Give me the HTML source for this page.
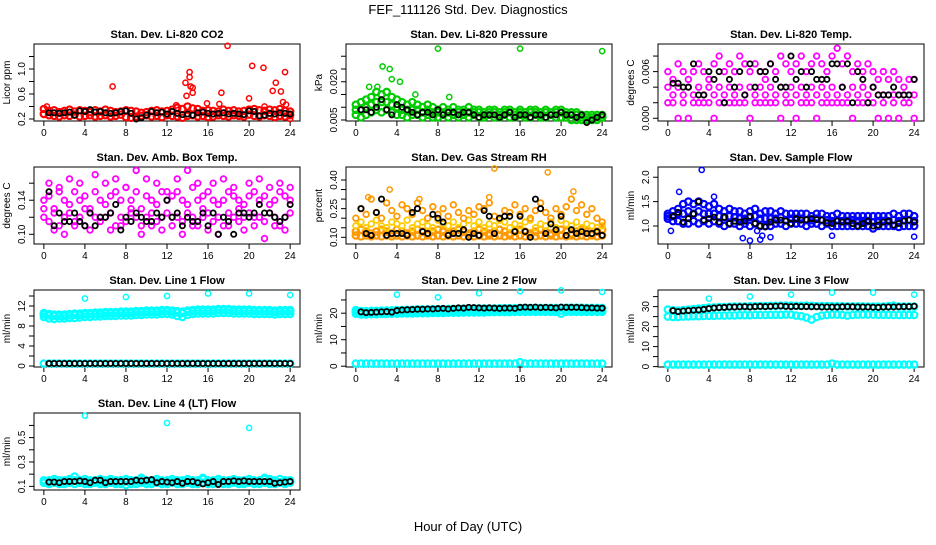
<!DOCTYPE html>
<html><head><meta charset="utf-8"><style>
body{margin:0;background:#fff}
svg text{font-family:"Liberation Sans",sans-serif}
</style></head><body>
<svg id="c" width="936" height="540" viewBox="0 0 936 540">
<text x="468" y="14" font-size="13" text-anchor="middle">FEF_111126  Std. Dev. Diagnostics</text>
<text x="468" y="531" font-size="13" text-anchor="middle">Hour of Day (UTC)</text>
</svg>
<script>
const hours=[0,0.5,1,1.5,2,2.5,3,3.5,4,4.5,5,5.5,6,6.5,7,7.5,8,8.5,9,9.5,10,10.5,11,11.5,12,12.5,13,13.5,14,14.5,15,15.5,16,16.5,17,17.5,18,18.5,19,19.5,20,20.5,21,21.5,22,22.5,23,23.5,24];
const xTicks=[0,4,8,12,16,20,24];
// panel 1 CO2
const co2A=[0.36,0.33,0.34,0.31,0.33,0.35,0.32,0.34,0.33,0.31,0.34,0.32,0.35,0.33,0.31,0.32,0.34,0.33,0.32,0.3,0.31,0.33,0.34,0.32,0.33,0.35,0.38,0.36,0.4,0.37,0.36,0.33,0.34,0.33,0.32,0.35,0.33,0.34,0.32,0.33,0.35,0.36,0.34,0.33,0.35,0.34,0.36,0.33,0.32];
const co2B=[0.28,0.26,0.25,0.24,0.26,0.25,0.27,0.24,0.25,0.26,0.24,0.25,0.26,0.24,0.25,0.27,0.23,0.22,0.24,0.25,0.26,0.24,0.25,0.23,0.26,0.25,0.24,0.22,0.25,0.26,0.24,0.25,0.23,0.24,0.26,0.25,0.24,0.26,0.25,0.24,0.27,0.25,0.24,0.26,0.25,0.23,0.25,0.24,0.26];
const co2Black=[0.3,0.3,0.29,0.3,0.31,0.26,0.33,0.32,0.35,0.31,0.32,0.3,0.29,0.3,0.32,0.33,0.29,0.2,0.22,0.26,0.32,0.3,0.31,0.28,0.32,0.29,0.27,0.28,0.26,0.3,0.31,0.29,0.28,0.29,0.3,0.28,0.29,0.28,0.27,0.33,0.32,0.25,0.26,0.29,0.28,0.3,0.29,0.28];
const co2OutX=[0.3,6.7,12.9,13.8,13.9,14.2,14.2,14.3,14.5,14.5,15.9,17.1,17.3,17.9,20,20.3,21.4,21.5,22.3,22.6,23.1,23.3,23.5,23.6,24];
const co2OutY=[0.4,0.72,0.42,0.78,0.57,0.95,0.87,0.72,0.7,0.62,0.45,0.44,0.62,1.37,0.53,1.05,1.02,0.4,0.65,0.78,0.64,0.47,0.95,0.43,0.2];
const co2Ticks=[0.2,0.4,0.6,0.8,1.0,1.2];
const co2Labels=["0.2","","0.6","","1.0",""];
// panel 2 pressure
const presA=[0.011,0.012,0.013,0.014,0.016,0.015,0.016,0.014,0.013,0.012,0.011,0.012,0.011,0.010,0.011,0.010,0.009,0.010,0.009,0.010,0.009,0.009,0.010,0.009,0.009,0.008,0.009,0.009,0.008,0.009,0.009,0.008,0.009,0.008,0.009,0.009,0.008,0.009,0.008,0.009,0.009,0.008,0.008,0.008,0.007,0.007,0.007,0.007,0.007];
const presB=[0.007,0.006,0.007,0.008,0.009,0.008,0.009,0.008,0.007,0.007,0.006,0.007,0.007,0.006,0.007,0.006,0.006,0.007,0.006,0.007,0.006,0.007,0.006,0.007,0.006,0.006,0.007,0.006,0.006,0.007,0.006,0.006,0.007,0.006,0.006,0.007,0.006,0.006,0.007,0.006,0.006,0.006,0.005,0.005,0.005,0.005,0.005,0.005,0.006];
const presC=[0.009,0.009,0.010,0.011,0.012,0.012,0.012,0.011,0.010,0.009,0.009,0.009,0.009,0.008,0.009,0.008,0.008,0.008,0.008,0.008,0.008,0.008,0.008,0.008,0.008,0.007,0.008,0.008,0.007,0.008,0.008,0.007,0.008,0.007,0.008,0.008,0.007,0.008,0.007,0.008,0.008,0.007,0.007,0.007,0.006,0.006,0.006,0.006,0.006];
const presBlack=[0.009,0.009,0.008,0.01,0.013,0.009,0.007,0.011,0.01,0.009,0.008,0.007,0.008,0.008,0.007,0.009,0.007,0.008,0.008,0.007,0.008,0.008,0.007,0.006,0.007,0.007,0.007,0.006,0.007,0.008,0.006,0.007,0.007,0.006,0.007,0.007,0.006,0.007,0.007,0.008,0.007,0.007,0.006,0.007,0.004,0.005,0.006,0.007];
const presOutX=[2.6,3.3,3.5,4.3,8,16,24,1.3,2.1,5.8,9.1];
const presOutY=[0.026,0.025,0.021,0.020,0.033,0.033,0.032,0.018,0.018,0.015,0.014];
const presTicks=[0.005,0.010,0.015,0.020,0.025,0.030];
const presLabels=["0.005","","","0.020","",""];
// panel 3 Li-820 temp
const tempA=[0.006,0.005,0.007,0.006,0.005,0.006,0.007,0.006,0.005,0.007,0.008,0.006,0.007,0.006,0.008,0.007,0.006,0.007,0.006,0.005,0.007,0.006,0.008,0.007,0.006,0.007,0.008,0.006,0.007,0.008,0.007,0.006,0.008,0.009,0.007,0.008,0.006,0.007,0.006,0.007,0.006,0.005,0.006,0.005,0.006,0.005,0.004,0.005,0.005];
const tempB=[0.004,0.003,0.004,0.003,0.004,0.003,0.004,0.003,0.004,0.003,0.004,0.003,0.004,0.003,0.004,0.003,0.004,0.003,0.004,0.003,0.004,0.003,0.004,0.003,0.004,0.003,0.004,0.003,0.004,0.003,0.004,0.003,0.004,0.003,0.004,0.003,0.004,0.003,0.004,0.003,0.004,0.003,0.003,0.003,0.003,0.003,0.003,0.003,0.003];
const tempC=[0.002,0.002,0,0.002,0,0.002,0.002,0.002,0.002,0,0.002,0.002,0.002,0.002,0.002,0.002,0,0.002,0.002,0.002,0.002,0.002,0,0.002,0.002,0,0.002,0.002,0.002,0,0.002,0.002,0.002,0.002,0.002,0.002,0,0.002,0.002,0.002,0.002,0,0.002,0,0.002,0,0.002,0.002,0];
const tempBlack=[0.0045,0.0045,0.004,0.004,0.007,0.003,0.003,0.006,0.005,0.006,0.002,0.005,0.004,0.006,0.003,0.007,0.004,0.006,0.006,0.007,0.005,0.004,0.004,0.008,0.005,0.006,0.004,0.006,0.005,0.005,0.005,0.007,0.007,0.004,0.007,0.002,0.006,0.005,0.002,0.004,0.003,0.003,0.003,0.004,0.003,0.003,0.003,0.005];
const tempTicks=[0,0.002,0.004,0.006,0.008];
const tempLabels=["0.000","","","0.006",""];
// panel 4 amb box temp
const ambA=[0.14,0.145,0.13,0.15,0.14,0.135,0.15,0.14,0.145,0.13,0.15,0.14,0.135,0.145,0.15,0.14,0.155,0.14,0.15,0.13,0.145,0.14,0.135,0.15,0.14,0.145,0.15,0.14,0.135,0.155,0.14,0.145,0.15,0.14,0.135,0.14,0.15,0.145,0.14,0.135,0.145,0.15,0.14,0.145,0.135,0.14,0.15,0.145,0.14];
const ambB=[0.12,0.115,0.125,0.11,0.12,0.125,0.115,0.12,0.11,0.125,0.12,0.115,0.12,0.125,0.11,0.12,0.115,0.125,0.12,0.11,0.12,0.125,0.115,0.12,0.125,0.11,0.12,0.115,0.125,0.12,0.11,0.12,0.125,0.115,0.12,0.11,0.125,0.12,0.115,0.12,0.125,0.11,0.12,0.115,0.125,0.12,0.11,0.12,0.125];
const ambC=[0.13,0.16,0.105,0.155,0.1,0.165,0.11,0.16,0.13,0.105,0.17,0.12,0.16,0.105,0.165,0.11,0.155,0.13,0.175,0.1,0.165,0.11,0.16,0.105,0.15,0.12,0.165,0.1,0.175,0.11,0.16,0.13,0.105,0.16,0.1,0.165,0.11,0.155,0.13,0.105,0.16,0.12,0.165,0.095,0.155,0.11,0.16,0.105,0.155];
const ambBlack=[0.15,0.11,0.125,0.115,0.115,0.125,0.115,0.11,0.125,0.11,0.12,0.12,0.125,0.135,0.105,0.12,0.115,0.125,0.12,0.115,0.115,0.125,0.12,0.14,0.12,0.125,0.11,0.12,0.115,0.115,0.125,0.11,0.125,0.1,0.12,0.115,0.1,0.125,0.125,0.12,0.125,0.135,0.125,0.125,0.12,0.115,0.12,0.135];
const ambTicks=[0.10,0.12,0.14,0.16];
const ambLabels=["0.10","","0.14",""];
// panel 5 RH
const rhA=[0.13,0.14,0.13,0.12,0.13,0.14,0.13,0.12,0.14,0.13,0.12,0.13,0.14,0.13,0.12,0.13,0.14,0.13,0.12,0.13,0.14,0.13,0.12,0.13,0.14,0.13,0.12,0.13,0.14,0.13,0.12,0.13,0.14,0.13,0.12,0.13,0.14,0.13,0.12,0.13,0.14,0.13,0.12,0.13,0.14,0.13,0.12,0.13,0.14];
const rhB=[0.11,0.105,0.11,0.105,0.11,0.105,0.11,0.105,0.11,0.105,0.11,0.105,0.11,0.105,0.11,0.105,0.11,0.105,0.11,0.105,0.11,0.105,0.11,0.105,0.11,0.105,0.11,0.105,0.11,0.105,0.11,0.105,0.11,0.105,0.11,0.105,0.11,0.105,0.11,0.105,0.11,0.105,0.11,0.105,0.11,0.105,0.11,0.105,0.11];
const rhC=[0.2,0.25,0.22,0.3,0.23,0.2,0.28,0.24,0.21,0.27,0.25,0.22,0.28,0.24,0.2,0.26,0.22,0.25,0.21,0.27,0.23,0.2,0.24,0.22,0.26,0.25,0.28,0.21,0.2,0.24,0.23,0.27,0.22,0.25,0.2,0.24,0.28,0.23,0.2,0.25,0.22,0.26,0.3,0.24,0.27,0.22,0.25,0.2,0.18];
const rhD=[0.16,0.18,0.15,0.17,0.19,0.16,0.15,0.18,0.17,0.16,0.19,0.15,0.17,0.18,0.16,0.15,0.19,0.17,0.16,0.18,0.15,0.17,0.19,0.16,0.18,0.15,0.17,0.16,0.19,0.18,0.15,0.17,0.16,0.18,0.19,0.15,0.17,0.16,0.18,0.15,0.19,0.17,0.16,0.18,0.15,0.17,0.16,0.15,0.16];
const rhBlack=[0.25,0.12,0.11,0.23,0.3,0.11,0.12,0.12,0.12,0.11,0.23,0.25,0.13,0.12,0.22,0.2,0.18,0.11,0.12,0.12,0.14,0.1,0.12,0.11,0.24,0.21,0.12,0.2,0.21,0.21,0.13,0.21,0.13,0.1,0.3,0.25,0.12,0.17,0.14,0.21,0.11,0.14,0.12,0.13,0.12,0.12,0.13,0.11];
const rhOutX=[13.5,18.7,3.3,21.2,1.2,6.2,13];
const rhOutY=[0.46,0.44,0.35,0.34,0.31,0.3,0.31];
const rhTicks=[0.10,0.15,0.20,0.25,0.30,0.35,0.40];
const rhLabels=["0.10","","","0.25","","","0.40"];
// panel 6 sample flow
const sfA=[1.25,1.3,1.35,1.45,1.5,1.45,1.5,1.45,1.4,1.45,1.35,1.3,1.35,1.3,1.3,1.25,1.3,1.35,1.25,1.3,1.3,1.25,1.3,1.25,1.25,1.25,1.25,1.25,1.2,1.25,1.25,1.2,1.2,1.25,1.2,1.2,1.2,1.2,1.2,1.2,1.2,1.2,1.2,1.2,1.25,1.2,1.25,1.25,1.2];
const sfB=[1.15,1.1,1.1,1.05,1.05,1.1,1.05,1.1,1.05,1.1,1.05,1.0,1.05,1.05,1.0,1.05,1.0,1.05,1.0,1.0,1.0,1.05,1.05,1.0,1.05,1.05,1.05,1.0,1.05,1.05,1.0,1.05,1.0,1.0,1.0,1.0,1.0,1.0,1.0,1.0,0.95,1.0,1.0,1.0,1.0,0.98,1.0,1.0,1.0];
const sfC=[1.2,1.2,1.25,1.25,1.3,1.25,1.3,1.25,1.25,1.25,1.2,1.18,1.2,1.18,1.15,1.15,1.18,1.2,1.15,1.15,1.15,1.15,1.18,1.12,1.15,1.15,1.15,1.12,1.12,1.15,1.12,1.12,1.1,1.12,1.1,1.1,1.12,1.1,1.1,1.1,1.08,1.1,1.1,1.1,1.12,1.1,1.12,1.12,1.1];
const sfBlack=[1.2,1.28,1.08,1.15,1.25,1.5,1.12,1.15,1.18,1.08,1.18,1.05,1.1,1.08,1.1,1.2,1.05,1.0,0.98,1.08,1.12,1.12,1.1,1.05,1.15,1.12,1.13,1.15,1.13,1.12,1.06,1.05,1.1,1.08,1.1,1.05,1.0,1.05,1.1,1.0,1.02,1.08,1.1,1.02,1.05,1.1,1.12,1.08];
const sfOutX=[0.3,3.3,1.1,4.5,7.3,8,8.7,9,9.2,10,16,24];
const sfOutY=[0.9,2.15,1.7,1.6,0.75,0.7,0.9,0.72,0.8,0.77,0.8,0.78];
const sfTicks=[1.0,1.5,2.0];
const sfLabels=["1.0","1.5","2.0"];
// panel 7 line 1
const l1A=[10.3,10.1,10.0,10.0,10.0,10.1,10.2,10.2,10.3,10.3,10.4,10.4,10.5,10.5,10.5,10.6,10.6,10.6,10.7,10.7,10.8,10.8,10.8,10.9,10.9,10.8,10.7,10.6,10.8,10.9,11.0,11.0,11.0,11.0,11.1,11.1,11.1,11.0,11.0,11.0,11.0,10.9,10.9,10.9,10.9,10.8,10.9,10.9,10.9];
const l1B=[9.8,9.5,9.4,9.5,9.5,9.6,9.6,9.7,9.8,9.8,9.9,9.9,10.0,10.0,10.0,10.1,10.1,10.1,10.2,10.2,10.3,10.3,10.3,10.4,10.4,10.3,10.0,9.8,10.2,10.4,10.5,10.5,10.5,10.5,10.6,10.6,10.6,10.5,10.5,10.5,10.5,10.4,10.4,10.4,10.4,10.3,10.4,10.4,10.4];
const l1C=[10.6,10.4,10.3,10.3,10.3,10.4,10.5,10.5,10.6,10.6,10.7,10.7,10.8,10.8,10.8,10.9,10.9,10.9,11.0,11.0,11.1,11.1,11.1,11.2,11.2,11.1,11.0,10.9,11.1,11.2,11.3,11.3,11.3,11.3,11.4,11.4,11.4,11.3,11.3,11.3,11.3,11.2,11.2,11.2,11.2,11.1,11.2,11.2,11.2];
const l1Zero=[0.5,0.5,0.5,0.5,0.5,0.5,0.5,0.5,0.5,0.5,0.5,0.5,0.5,0.5,0.5,0.5,0.5,0.5,0.5,0.5,0.5,0.5,0.5,0.5,0.5,0.5,0.5,0.5,0.5,0.5,0.5,0.5,0.5,0.5,0.5,0.5,0.5,0.5,0.5,0.5,0.5,0.5,0.5,0.5,0.5,0.5,0.5,0.5,0.5];
const l1OutX=[4,8,12,16,20,24];
const l1OutY=[13.5,13.8,14,14.5,14.5,14.2];
const l1Ticks=[0,2,4,6,8,10,12,14];
const l1Labels=["0","","4","","8","","12",""];
// panel 8 line 2
const l2A=[21.2,20.8,20.8,20.9,20.9,21.0,21.0,21.1,21.2,21.2,21.3,21.3,21.4,21.4,21.4,21.5,21.5,21.5,21.6,21.6,21.7,21.7,21.7,21.8,21.8,21.8,21.8,21.8,21.9,21.9,21.9,21.9,22.0,22.0,22.0,22.0,22.0,22.0,22.0,22.0,22.0,22.1,22.1,22.1,22.1,22.0,22.0,22.0,22.0];
const l2B=[19.8,19.5,19.5,19.6,19.6,19.7,19.7,19.8,19.8,19.9,19.9,19.9,20.0,20.0,20.0,20.1,20.1,20.1,20.2,20.2,20.2,20.3,20.3,20.3,20.3,20.3,20.4,20.4,20.4,20.4,20.4,20.5,20.5,20.5,20.5,20.5,20.5,20.5,20.5,20.5,19.8,20.5,20.5,20.5,20.5,20.5,20.5,20.5,20.5];
const l2C=[20.5,20.2,20.2,20.3,20.3,20.4,20.4,20.5,20.5,20.6,20.6,20.6,20.7,20.7,20.7,20.8,20.8,20.8,20.9,20.9,21.0,21.0,21.0,21.1,21.1,21.1,21.1,21.1,21.2,21.2,21.2,21.2,21.3,21.3,21.3,21.3,21.3,21.3,21.3,21.3,21.0,21.3,21.3,21.3,21.3,21.3,21.3,21.3,21.3];
const l2Black=[20.5,20.2,20.3,20.4,20.5,20.6,20.4,21.0,21.2,21.3,21.4,21.5,21.5,21.6,21.6,21.7,21.8,21.6,21.8,22.0,21.9,22.2,22.1,22.0,21.9,22.0,21.9,21.8,21.9,21.9,21.8,22.2,22.3,22.2,22.3,22.1,22.2,22.1,22.0,22.3,22.2,22.2,22.2,22.1,22.0,22.0,21.9,21.9];
const l2OutX=[4,8,12,16,20,24];
const l2OutY=[27,26,27.5,28.3,28.6,28];
const lowFlow=[1,1,1,1,1,1,1,1,1,1,1,1,1,1,1,1,1,1,1,1,1,1,1,1,1,1,1,1,1,1,1,1,1.5,1,1,1,1,1,1,1,1,1,1,1,1,1,1,1,1];
const l2Ticks=[0,5,10,15,20,25];
const l2Labels=["0","","10","","20",""];
// panel 9 line 3
const l3A=[28.5,28.2,28.0,28.3,28.5,28.8,29.0,29.2,29.5,29.6,29.8,29.8,29.9,30.0,30.0,30.1,30.2,30.2,30.3,30.3,30.4,30.4,30.5,30.5,30.5,30.4,30.4,30.5,30.4,30.3,30.3,30.3,30.2,30.2,30.2,30.1,30.1,30.1,30.1,30.0,30.0,30.0,30.0,30.2,30.5,30.0,30.0,30.0,30.0];
const l3B=[25.0,24.8,24.8,25.0,25.1,25.2,25.2,25.3,25.4,25.4,25.5,25.5,25.6,25.6,25.7,25.7,25.7,25.8,25.8,25.8,25.9,25.9,25.9,26.0,26.0,25.5,25.2,24.5,23.5,24.8,25.5,25.8,26.0,26.0,25.8,25.5,25.8,26.0,26.0,26.0,26.0,25.9,25.9,25.9,25.8,25.8,25.8,25.8,25.8];
const l3Black=[28.0,27.5,27.8,28.0,28.2,28.3,28.6,29.0,29.3,29.5,29.6,29.8,29.8,29.9,30.0,29.8,30.0,30.1,30.0,30.1,30.2,30.3,30.1,30.0,30.1,30.0,30.0,29.9,29.9,29.8,29.8,29.8,29.8,29.9,30.0,29.9,29.8,29.8,29.8,29.7,29.6,29.8,29.8,29.8,29.9,30.0,30.0,30.2];
const l3OutX=[4,8,12,16,20,24];
const l3OutY=[34,35,36,37,37,36];
const l3Ticks=[0,5,10,15,20,25,30,35];
const l3Labels=["0","","10","","20","","30",""];
// panel 10 line 4
const l4A=[0.15,0.15,0.16,0.15,0.15,0.16,0.15,0.15,0.16,0.15,0.15,0.16,0.15,0.16,0.15,0.15,0.16,0.15,0.15,0.16,0.15,0.15,0.16,0.15,0.15,0.16,0.15,0.15,0.16,0.15,0.15,0.16,0.15,0.15,0.16,0.15,0.15,0.16,0.15,0.15,0.16,0.15,0.15,0.16,0.16,0.15,0.16,0.15,0.15];
const l4B=[0.13,0.12,0.13,0.12,0.12,0.13,0.12,0.13,0.12,0.12,0.13,0.12,0.12,0.13,0.12,0.12,0.11,0.12,0.12,0.13,0.12,0.12,0.13,0.12,0.12,0.13,0.12,0.12,0.13,0.12,0.12,0.13,0.12,0.12,0.13,0.12,0.12,0.13,0.12,0.12,0.13,0.12,0.12,0.13,0.12,0.12,0.13,0.12,0.13];
const l4C=[0.14,0.14,0.14,0.135,0.14,0.14,0.18,0.14,0.14,0.135,0.14,0.14,0.14,0.14,0.135,0.14,0.14,0.14,0.14,0.17,0.14,0.14,0.14,0.135,0.14,0.14,0.14,0.14,0.14,0.135,0.14,0.17,0.14,0.14,0.14,0.14,0.135,0.14,0.14,0.14,0.14,0.14,0.14,0.17,0.14,0.14,0.135,0.14,0.14];
const l4Black=[0.135,0.135,0.13,0.14,0.14,0.14,0.145,0.14,0.13,0.15,0.15,0.13,0.14,0.14,0.14,0.14,0.14,0.15,0.145,0.15,0.155,0.13,0.14,0.135,0.13,0.14,0.125,0.14,0.14,0.13,0.12,0.13,0.14,0.115,0.14,0.14,0.145,0.14,0.145,0.14,0.14,0.14,0.14,0.14,0.125,0.13,0.135,0.14];
const l4OutX=[4,12,20];
const l4OutY=[0.68,0.62,0.58];
const l4Ticks=[0.1,0.2,0.3,0.4,0.5,0.6];
const l4Labels=["0.1","","0.3","","0.5",""];

const NS="http://www.w3.org/2000/svg";
const svg=document.getElementById('c');
function mk(tag,attrs,parent){const e=document.createElementNS(NS,tag);for(const k in attrs)e.setAttribute(k,attrs[k]);(parent||svg).appendChild(e);return e;}
const colL=[34,346,658], rowT=[44,167,290,413], W=266, H=77, XMIN=-0.96, XMAX=24.96;

function panel(col,row,ymin,ymax,title,ylab,ticks,labels,name){
  const L=colL[col],T=rowT[row];
  const g=mk('g',{});
  
  
  const sx=v=>L+(v-XMIN)/(XMAX-XMIN)*W;
  const sy=v=>T+H-(v-ymin)/(ymax-ymin)*H;
  const t=mk('text',{x:L+W/2,y:T-6,'font-size':11,'font-weight':'bold','text-anchor':'middle'},g);t.textContent=title;
  
  
  const b=mk('rect',{x:L,y:T,width:W,height:H,fill:'none',stroke:'#000','stroke-width':1},g);
  
  
  xTicks.forEach(v=>{const x=sx(v);mk('line',{x1:x,x2:x,y1:T+H,y2:T+H+5,stroke:'#000'},g);
    const tx=mk('text',{x:x,y:T+H+15,'font-size':10,'text-anchor':'middle'},g);tx.textContent=v;
    
    });
  mk('line',{x1:sx(0),x2:sx(24),y1:T+H,y2:T+H,stroke:'#000'},g);
  ticks.forEach((v,i)=>{const y=sy(v);mk('line',{x1:L-5,x2:L,y1:y,y2:y,stroke:'#000'},g);
    if(labels[i]){const tl=mk('text',{x:L-9,y:y,'font-size':10,'text-anchor':'middle',transform:`rotate(-90 ${L-9} ${y})`},g);tl.textContent=labels[i];
    
    }});
  const yl=mk('text',{x:L-24,y:T+H/2,'font-size':10,'text-anchor':'middle',transform:`rotate(-90 ${L-24} ${T+H/2})`},g);yl.textContent=ylab;
  
  
  const pts=mk('g',{},g);
  
  
  return {
    series(xs,ys,color,r,sw){ys.forEach((v,i)=>{if(xs[i]===undefined)return;const c=mk('circle',{cx:sx(xs[i]),cy:sy(v),r:r||2.6,fill:'none',stroke:color,'stroke-width':sw||1.5},pts);
      
      });}
  };
}
const blackX=hours.slice(1);
const BR=3.2, BW=2.2;
let p;
p=panel(0,0,0.168,1.4,'Stan. Dev. Li-820 CO2','Licor ppm',co2Ticks,co2Labels,'co2');
p.series(hours,co2A,'#f00',BR,BW);p.series(hours,co2B,'#f00',BR,BW);p.series(co2OutX,co2OutY,'#f00');p.series(blackX,co2Black,'#000',2.6,1.8);
p=panel(1,0,0.0046,0.0348,'Stan. Dev. Li-820 Pressure','kPa',presTicks,presLabels,'pressure');
p.series(hours,presA,'#0c0',BR,BW);p.series(hours,presC,'#0c0',BR,BW);p.series(hours,presB,'#0c0',BR,BW);p.series(presOutX,presOutY,'#0c0');p.series(blackX,presBlack,'#000',2.6,1.8);
p=panel(2,0,-0.00035,0.00955,'Stan. Dev. Li-820 Temp.','degrees C',tempTicks,tempLabels,'licor-temp');
p.series(hours,tempA,'#f0f',2.8,1.8);p.series(hours,tempB,'#f0f',2.8,1.8);p.series(hours,tempC,'#f0f',2.8,1.8);p.series(blackX,tempBlack,'#000',2.6,1.8);
p=panel(0,1,0.0886,0.179,'Stan. Dev. Amb. Box Temp.','degrees C',ambTicks,ambLabels,'amb-temp');
p.series(hours,ambA,'#f0f',2.8,1.8);p.series(hours,ambB,'#f0f',2.8,1.8);p.series(hours,ambC,'#f0f',2.8,1.8);p.series(blackX,ambBlack,'#000',2.6,1.8);
p=panel(1,1,0.065,0.468,'Stan. Dev. Gas Stream RH','percent',rhTicks,rhLabels,'rh');
p.series(hours,rhA,'#f90',BR,BW);p.series(hours,rhB,'#f90',BR,BW);p.series(hours,rhD,'#fc0',2.8,1.8);p.series(hours,rhC,'#f90',2.8,1.8);p.series(rhOutX,rhOutY,'#f90');p.series(blackX,rhBlack,'#000',2.6,1.8);
p=panel(2,1,0.63,2.21,'Stan. Dev. Sample Flow','ml/min',sfTicks,sfLabels,'sample-flow');
p.series(hours,sfA,'#00f',BR,BW);p.series(hours,sfC,'#00f',BR,BW);p.series(hours,sfB,'#00f',BR,BW);p.series(sfOutX,sfOutY,'#00f');p.series(blackX,sfBlack,'#000',2.6,1.8);
p=panel(0,2,-0.2,15.2,'Stan. Dev. Line 1 Flow','ml/min',l1Ticks,l1Labels,'line1-flow');
p.series(hours,l1C,'#0ff',BR,BW);p.series(hours,l1A,'#0ff',BR,BW);p.series(hours,l1B,'#0ff',BR,BW);p.series(l1OutX,l1OutY,'#0ff');p.series(hours,l1Zero,'#0ff',BR,BW);p.series(blackX,l1Zero,'#000',2.6,1.8);
p=panel(1,2,-0.3,28.75,'Stan. Dev. Line 2 Flow','ml/min',l2Ticks,l2Labels,'line2-flow');
p.series(hours,l2A,'#0ff',BR,BW);p.series(hours,l2C,'#0ff',BR,BW);p.series(hours,l2B,'#0ff',BR,BW);p.series(l2OutX,l2OutY,'#0ff');p.series(hours,lowFlow,'#0ff',BR,BW);p.series(blackX,l2Black,'#000',2.6,1.8);
p=panel(2,2,-0.2,38.3,'Stan. Dev. Line 3 Flow','ml/min',l3Ticks,l3Labels,'line3-flow');
p.series(hours,l3B,'#0ff',BR,BW);p.series(hours,l3A,'#0ff',BR,BW);p.series(l3OutX,l3OutY,'#0ff');p.series(hours,lowFlow,'#0ff',BR,BW);p.series(blackX,l3Black,'#000',2.6,1.8);
p=panel(0,3,0.07,0.702,'Stan. Dev. Line 4 (LT) Flow','ml/min',l4Ticks,l4Labels,'line4-flow');
p.series(hours,l4A,'#0ff',BR,BW);p.series(hours,l4C,'#0ff',BR,BW);p.series(hours,l4B,'#0ff',BR,BW);p.series(l4OutX,l4OutY,'#0ff');p.series(blackX,l4Black,'#000',2.6,1.8);
</script>
</body></html>
